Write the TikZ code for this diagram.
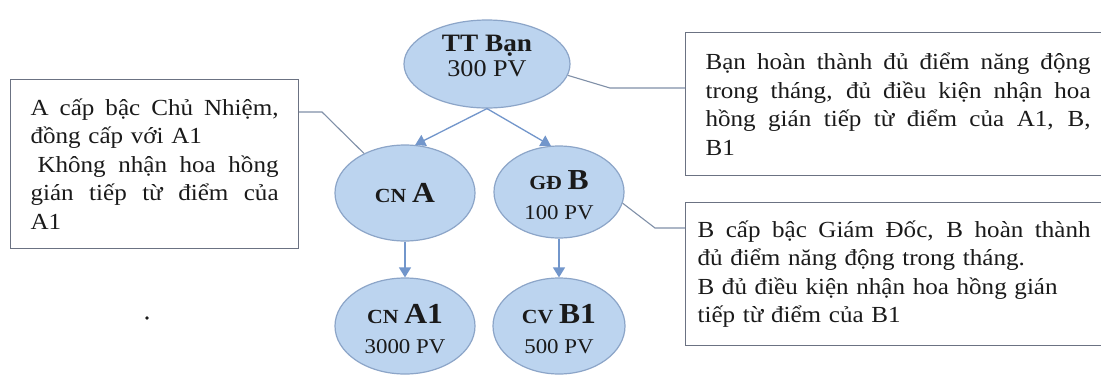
\documentclass[tikz,border=0pt]{standalone}
\usepackage{fontspec}
\setmainfont{Liberation Serif}[FakeStretch=1.09]
\usetikzlibrary{arrows.meta,shapes.geometric}

\definecolor{bubblefill}{HTML}{BCD4EF}
\definecolor{bubbleedge}{HTML}{8CA5C8}
\definecolor{arrowblue}{HTML}{7296CB}
\definecolor{calloutline}{HTML}{8090A8}
\definecolor{boxedge}{HTML}{6B7282}
\definecolor{ink}{HTML}{1A1A1A}

% fonts for the member bubbles
\newcommand\rankfont{\fontsize{20}{24}\selectfont\bfseries}
\newcommand\namefont{\fontsize{29}{30}\selectfont\bfseries}
% one fully justified line of a note
\newcommand\jline[2]{\makebox[#1][s]{\spaceskip=0pt\xspaceskip=0pt #2}}

\begin{document}
\begin{tikzpicture}[x=1pt,y=-1pt,
  bubble/.style={ellipse, draw=bubbleedge, line width=1.2pt, fill=bubblefill,
    inner sep=0pt, align=center, text=ink, font=\fontsize{21}{30}\selectfont},
  note/.style={rectangle, draw=boxedge, line width=1.2pt, fill=white,
    anchor=north west, minimum height=143pt, align=left, text=ink,
    font=\fontsize{23}{28.5}\selectfont},
  link/.style={arrowblue, line width=1.3pt,
    -{Triangle[length=10pt,width=12pt,fill=arrowblue]}},
  callout/.style={calloutline, line width=1.1pt}
]
\useasboundingbox (0,0) rectangle (1101,376);
\clip (0,0) rectangle (1101,376);
\fill[white] (0,0) rectangle (1101,376);

% member bubbles
\node[bubble, minimum width=166pt, minimum height=88pt, font=\fontsize{24}{25}\selectfont]
  (tt) at (487,64) {{\fontsize{25}{25}\selectfont\bfseries TT Bạn}\\300 PV\rule[-17pt]{0pt}{17pt}};
\node[bubble, minimum width=140pt, minimum height=96pt] (cna) at (405,193)
  {{\rankfont CN} {\namefont A}};
\node[bubble, minimum width=130pt, minimum height=92pt] (gdb) at (559,192)
  {{\rankfont GĐ} {\namefont B}\rule{0pt}{26pt}\\100 PV};
\node[bubble, minimum width=140pt, minimum height=96pt] (cna1) at (405,326)
  {{\rankfont CN} {\namefont A1}\rule{0pt}{26pt}\\3000 PV};
\node[bubble, minimum width=132pt, minimum height=96pt] (cvb1) at (559,326)
  {{\rankfont CV} {\namefont B1}\rule{0pt}{26pt}\\500 PV};

% downline links
\draw[link] (tt.south) -- (cna.78);
\draw[link] (tt.south) -- (gdb.100);
\draw[link] (cna.south) -- (cna1.north);
\draw[link] (gdb.south) -- (cvb1.north);

% notes
\node[note, inner xsep=20pt, text width=248pt, minimum height=169pt] (lnote) at (10,79)
  {\jline{248pt}{A cấp bậc Chủ Nhiệm,}\\
   đồng cấp với A1\\
   \jline{248pt}{\hspace*{0.3em}Không nhận hoa hồng}\\
   \jline{248pt}{gián tiếp từ điểm của}\\
   A1};
\node[note, inner xsep=20pt, text width=400pt] (tnote) at (685,32)
  {\jline{385pt}{Bạn hoàn thành đủ điểm năng động}\\
   \jline{385pt}{trong tháng, đủ điều kiện nhận hoa}\\
   \jline{385pt}{hồng gián tiếp từ điểm của A1, B,}\\
   B1};
\node[note, inner xsep=12pt, text width=410pt] (bnote) at (685,202)
  {\jline{393pt}{B cấp bậc Giám Đốc, B hoàn thành}\\
   đủ điểm năng động trong tháng.\\
   B đủ điều kiện nhận hoa hồng gián\\
   tiếp từ điểm của B1};

% callout lines from notes to bubbles
\coordinate (lbend) at (322,112);
\coordinate (tbend) at (610,88);
\coordinate (bbend) at (655,228);
\draw[callout] (lbend -| lnote.east) -- (lbend) -- (cna.136);
\draw[callout] (tt.-8) -- (tbend) -- (tbend -| tnote.west);
\draw[callout] (gdb.-10) -- (bbend) -- (bbend -| bnote.west);

% stray dot
\fill[ink] (147,318) circle (1.8pt);
\end{tikzpicture}
\end{document}
